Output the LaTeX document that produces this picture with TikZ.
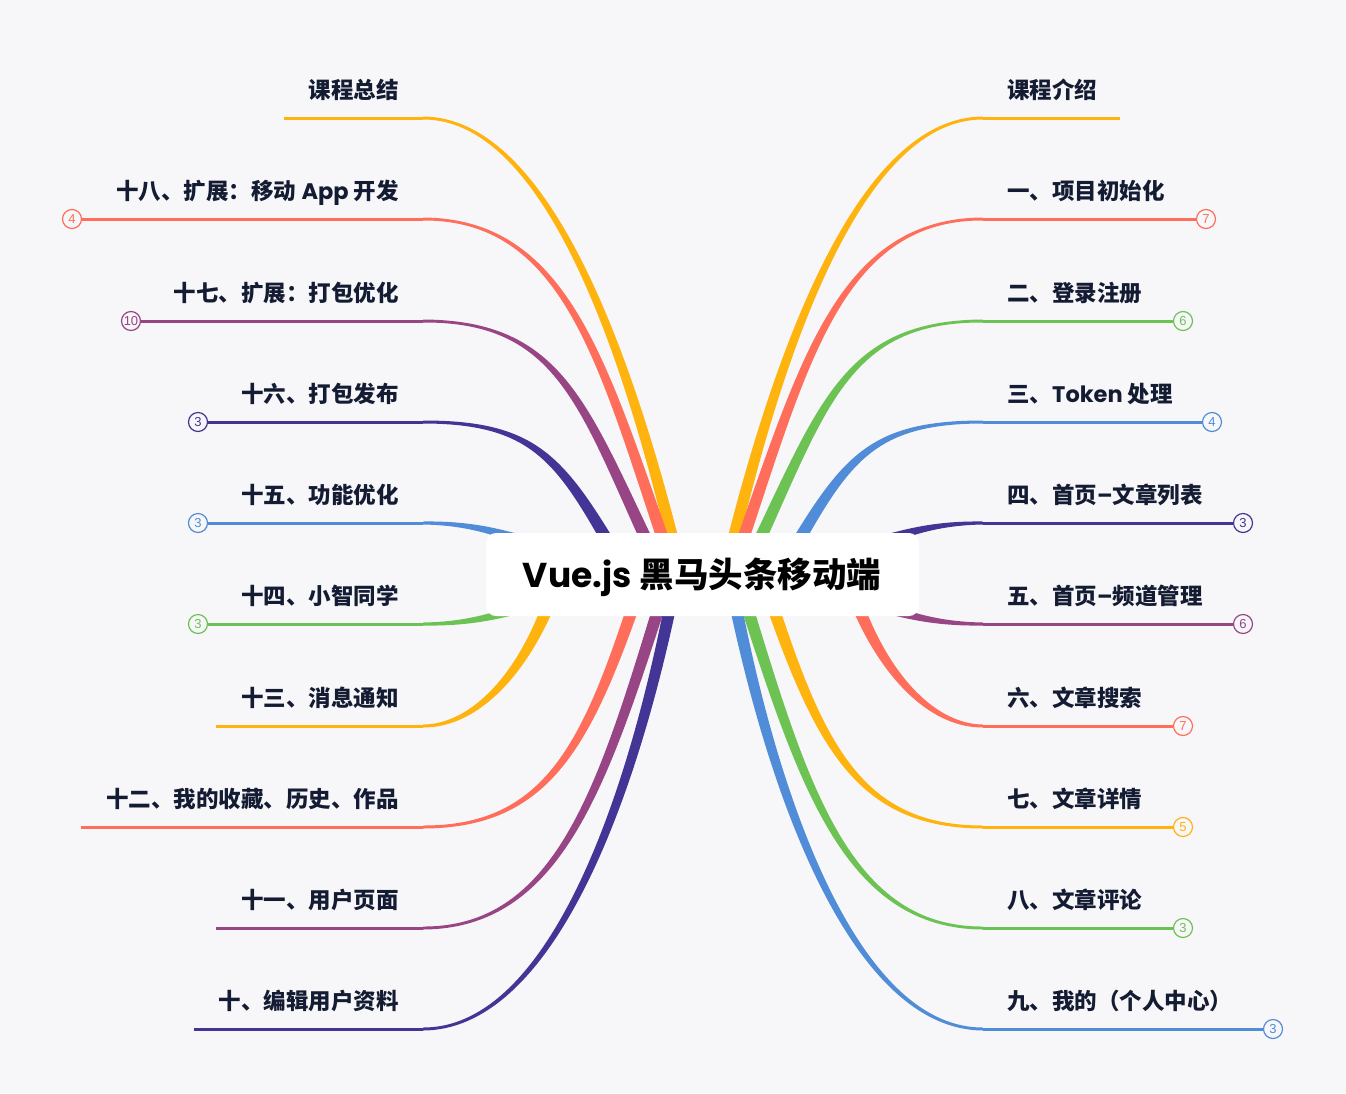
\documentclass[tikz,border=0pt]{standalone}
\usepackage{fontspec}
\setmainfont{Noto Sans CJK SC}
\newfontfamily\lat{Poppins}
\newfontfamily\numfont{Liberation Sans}
\usetikzlibrary{calc}
\definecolor{bg}{HTML}{F7F7F9}
\definecolor{ink}{HTML}{141C33}
\definecolor{cOr}{HTML}{FFB30F}
\definecolor{cRd}{HTML}{FF6E5B}
\definecolor{cGr}{HTML}{6CC354}
\definecolor{cBl}{HTML}{508CD8}
\definecolor{cIn}{HTML}{433595}
\definecolor{cPu}{HTML}{984585}
\tikzset{
  lbl/.style={font=\fontsize{22.5}{27}\selectfont\bfseries, text=ink, inner sep=0pt},
  badge/.style={circle, draw=#1, fill=bg, line width=1.2pt, minimum size=19pt, inner sep=0pt, text=#1, font=\numfont\fontsize{13}{13}\selectfont},
  uline/.style={draw=#1, line width=3pt},
  rootbox/.style={fill=white, rounded corners=10pt, minimum width=433pt, minimum height=83pt, inner sep=0pt},
}
\newcommand\branch[6]{%
  \coordinate (#1s) at #3;
  \coordinate (#1a) at #4;
  \coordinate (#1b) at #5;
  \coordinate (#1e) at #6;
  \fill[#2] ($(#1s)!6pt!90:(#1a)$) .. controls ($(#1a)!4.3pt!90:(#1b)$) and ($(#1b)!2.5pt!-90:(#1a)$) .. ($(#1e)!1.5pt!-90:(#1b)$) -- ($(#1e)!1.5pt!90:(#1b)$) .. controls ($(#1b)!2.5pt!90:(#1a)$) and ($(#1a)!4.3pt!-90:(#1b)$) .. ($(#1s)!6pt!-90:(#1a)$) -- cycle;
}
\begin{document}
\begin{tikzpicture}[x=1pt,y=-1pt]
\useasboundingbox (0,0) rectangle (1346,1093);
\fill[bg] (0,0) rectangle (1346,1093);
% right branches
\branch{R0}{cOr}{(733.5,539)}{(783,339)}{(863,118)}{(983,118)}
\branch{R1}{cRd}{(743,539)}{(805,358)}{(843,219)}{(983,219)}
\branch{R2}{cGr}{(760,539)}{(825,399)}{(851,321)}{(983,321)}
\branch{R3}{cBl}{(799.5,539)}{(849,455)}{(878,422)}{(983,422)}
\branch{R4}{cIn}{(860,548)}{(900,535)}{(930,523)}{(983,523)}
\branch{R5}{cPu}{(860,600)}{(900,613)}{(930,624)}{(983,624)}
\branch{R6}{cRd}{(859.5,610)}{(889,681)}{(935,726)}{(983,726)}
\branch{R7}{cOr}{(774,610)}{(822,750)}{(863,827)}{(983,827)}
\branch{R8}{cGr}{(748,610)}{(805,791)}{(850,928)}{(983,928)}
\branch{R9}{cBl}{(736.5,610)}{(781,825)}{(863,1029)}{(983,1029)}
% left branches
\branch{L0}{cOr}{(672.5,539)}{(623,339)}{(543,118)}{(423,118)}
\branch{L1}{cRd}{(663,539)}{(601,358)}{(563,219)}{(423,219)}
\branch{L2}{cPu}{(646,539)}{(581,399)}{(555,321)}{(423,321)}
\branch{L3}{cIn}{(606.5,539)}{(557,455)}{(528,422)}{(423,422)}
\branch{L4}{cBl}{(546,548)}{(506,535)}{(476,523)}{(423,523)}
\branch{L5}{cGr}{(546,600)}{(506,613)}{(476,624)}{(423,624)}
\branch{L6}{cOr}{(546.5,610)}{(517,681)}{(471,726)}{(423,726)}
\branch{L7}{cRd}{(632,610)}{(584,750)}{(543,827)}{(423,827)}
\branch{L8}{cPu}{(658,610)}{(601,791)}{(556,928)}{(423,928)}
\branch{L9}{cIn}{(669.5,610)}{(625,825)}{(543,1029)}{(423,1029)}
% root
\node[rootbox] (root) at (702.5,574.5) {};
\node[anchor=base, inner sep=0pt, text=black, font=\fontsize{34.5}{40}\selectfont\bfseries] (title) at (702,587) {{\lat Vue.js} 黑马头条移动端};
% right badges and underlines
\coordinate (R0end) at (1120,118);
\node[badge=cRd] (bR1) at (1206,219) {7};
\node[badge=cGr] (bR2) at (1183,321) {6};
\node[badge=cBl] (bR3) at (1212,422) {4};
\node[badge=cIn] (bR4) at (1243,523) {3};
\node[badge=cPu] (bR5) at (1243,624) {6};
\node[badge=cRd] (bR6) at (1183,726) {7};
\node[badge=cOr] (bR7) at (1183,827) {5};
\node[badge=cGr] (bR8) at (1183,928) {3};
\node[badge=cBl] (bR9) at (1273,1029) {3};
\draw[uline=cOr] (R0e) -- (R0end);
\draw[uline=cRd] (R1e) -- (bR1.west);
\draw[uline=cGr] (R2e) -- (bR2.west);
\draw[uline=cBl] (R3e) -- (bR3.west);
\draw[uline=cIn] (R4e) -- (bR4.west);
\draw[uline=cPu] (R5e) -- (bR5.west);
\draw[uline=cRd] (R6e) -- (bR6.west);
\draw[uline=cOr] (R7e) -- (bR7.west);
\draw[uline=cGr] (R8e) -- (bR8.west);
\draw[uline=cBl] (R9e) -- (bR9.west);
% left badges and underlines
\coordinate (L0end) at (284,118);
\node[badge=cRd] (bL1) at (72,219) {4};
\node[badge=cPu] (bL2) at (131,321) {10};
\node[badge=cIn] (bL3) at (198,422) {3};
\node[badge=cBl] (bL4) at (198,523) {3};
\node[badge=cGr] (bL5) at (198,624) {3};
\coordinate (L6end) at (216,726);
\coordinate (L7end) at (81,827);
\coordinate (L8end) at (216,928);
\coordinate (L9end) at (194,1029);
\draw[uline=cOr] (L0e) -- (L0end);
\draw[uline=cRd] (L1e) -- (bL1.east);
\draw[uline=cPu] (L2e) -- (bL2.east);
\draw[uline=cIn] (L3e) -- (bL3.east);
\draw[uline=cBl] (L4e) -- (bL4.east);
\draw[uline=cGr] (L5e) -- (bL5.east);
\draw[uline=cOr] (L6e) -- (L6end);
\draw[uline=cRd] (L7e) -- (L7end);
\draw[uline=cPu] (L8e) -- (L8end);
\draw[uline=cIn] (L9e) -- (L9end);
% right labels
\node[lbl, anchor=base west] (tR0) at (1007,98) {课程介绍};
\node[lbl, anchor=base west] (tR1) at (1007,199) {一、项目初始化};
\node[lbl, anchor=base west] (tR2) at (1007,301) {二、登录注册};
\node[lbl, anchor=base west] (tR3) at (1007,402) {三、{\lat Token} 处理};
\node[lbl, anchor=base west] (tR4) at (1007,503) {四、首页{\lat –}文章列表};
\node[lbl, anchor=base west] (tR5) at (1007,604) {五、首页{\lat –}频道管理};
\node[lbl, anchor=base west] (tR6) at (1007,706) {六、文章搜索};
\node[lbl, anchor=base west] (tR7) at (1007,807) {七、文章详情};
\node[lbl, anchor=base west] (tR8) at (1007,908) {八、文章评论};
\node[lbl, anchor=base west] (tR9) at (1007,1009) {九、我的（个人中心）};
% left labels
\node[lbl, anchor=base east] (tL0) at (399,98) {课程总结};
\node[lbl, anchor=base east] (tL1) at (399,199) {十八、扩展：移动 {\lat App} 开发};
\node[lbl, anchor=base east] (tL2) at (399,301) {十七、扩展：打包优化};
\node[lbl, anchor=base east] (tL3) at (399,402) {十六、打包发布};
\node[lbl, anchor=base east] (tL4) at (399,503) {十五、功能优化};
\node[lbl, anchor=base east] (tL5) at (399,604) {十四、小智同学};
\node[lbl, anchor=base east] (tL6) at (399,706) {十三、消息通知};
\node[lbl, anchor=base east] (tL7) at (399,807) {十二、我的收藏、历史、作品};
\node[lbl, anchor=base east] (tL8) at (399,908) {十一、用户页面};
\node[lbl, anchor=base east] (tL9) at (399,1009) {十、编辑用户资料};
\end{tikzpicture}
\end{document}
